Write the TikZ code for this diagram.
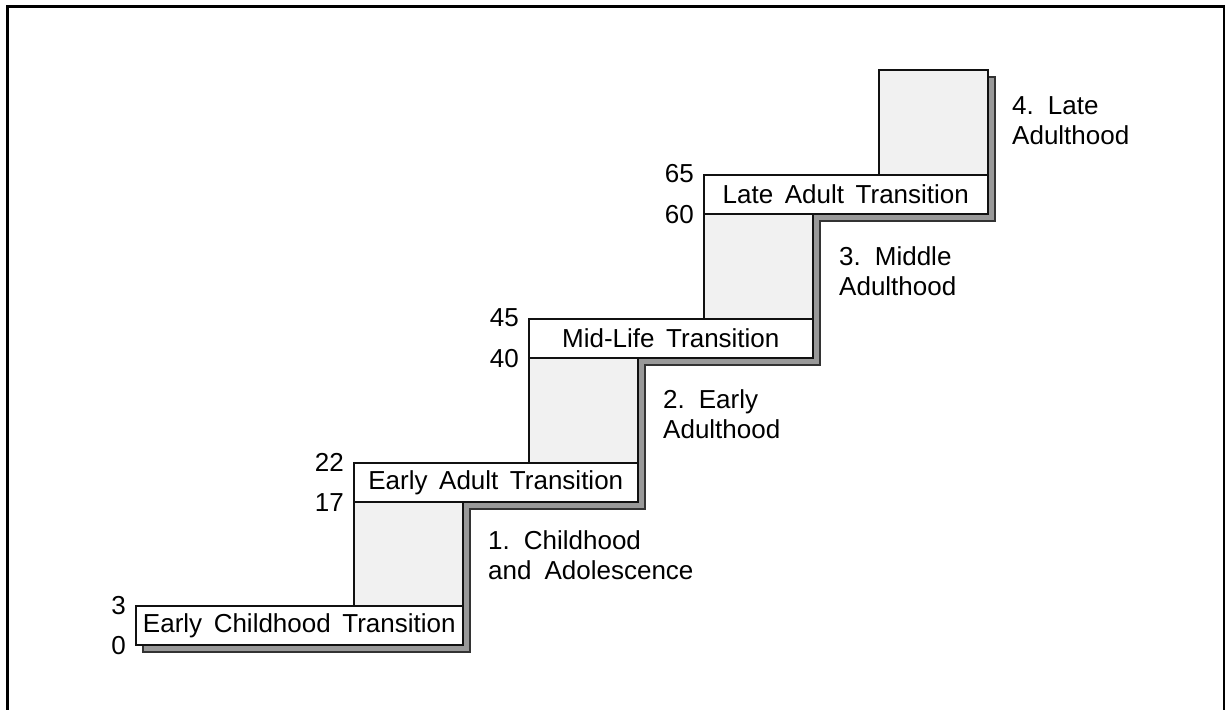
\documentclass[tikz,border=0pt]{standalone}
\usepackage{fontspec}
\setmainfont{Liberation Sans}[WordSpace=1.6]
\definecolor{shadowgray}{HTML}{999999}
\definecolor{blockgray}{HTML}{F1F1F1}
\definecolor{inkline}{HTML}{111111}
\begin{document}
\begin{tikzpicture}[x=1pt,y=-1pt,
  font=\fontsize{26}{30}\selectfont,
  stepbox/.style={draw=inkline, line width=1.6pt, fill=white, inner sep=0pt,
    anchor=north west, minimum height=39pt},
  eraslab/.style={draw=inkline, line width=1.6pt, fill=blockgray, inner sep=0pt,
    anchor=north west, minimum width=109pt, minimum height=105pt},
  agelab/.style={anchor=east, inner sep=0pt},
  periodlab/.style={anchor=base west, align=left, inner sep=0pt},
  shade/.style={fill=shadowgray, draw=black!80, line width=1.4pt}]
\useasboundingbox (0,0) rectangle (1225,709);

% outer frame (open at the bottom)
\draw[line width=2.2pt, black] (7.5,720) -- (7.5,6.5) -- (1224,6.5) -- (1224,720);

% drop shadow of the whole staircase
\draw[shade, shift={(8pt,-8pt)}]
  (135,605) -- (353,605) -- (353,462) -- (528,462) -- (528,318) -- (703,318)
  -- (703,174) -- (878,174) -- (878,69) -- (987,69) -- (987,213) -- (812,213)
  -- (812,357) -- (637,357) -- (637,501) -- (462,501) -- (462,644) -- (135,644)
  -- cycle;

% stable periods (risers)
\node[eraslab] (g1) at (353,500) {};
\node[eraslab] (g2) at (528,357) {};
\node[eraslab] (g3) at (703,213) {};
\node[eraslab] (g4) at (878,69) {};

% transitions (treads)
\node[stepbox, minimum width=327pt] (b1) at (135,605) {Early Childhood Transition};
\node[stepbox, minimum width=284pt] (b2) at (353,462) {Early Adult Transition};
\node[stepbox, minimum width=284pt] (b3) at (528,318) {Mid-Life Transition};
\node[stepbox, minimum width=284pt] (b4) at (703,174) {Late Adult Transition};

% ages
\node[agelab] (a3)  at ([xshift=-9pt,yshift=-1pt]b1.north west) {3};
\node[agelab] (a0)  at ([xshift=-9pt]b1.south west) {0};
\node[agelab] (a22) at ([xshift=-9pt]b2.north west) {22};
\node[agelab] (a17) at ([xshift=-9pt]b2.south west) {17};
\node[agelab] (a45) at ([xshift=-9pt]b3.north west) {45};
\node[agelab] (a40) at ([xshift=-9pt]b3.south west) {40};
\node[agelab] (a65) at ([xshift=-9pt]b4.north west) {65};
\node[agelab] (a60) at ([xshift=-9pt]b4.south west) {60};

% era names (anchored on the baseline of the second line)
\node[periodlab] (p1) at (488,579) {1.\hspace{14pt}Childhood\\and\hspace{13pt}Adolescence};
\node[periodlab] (p2) at (663,438) {2.\hspace{14pt}Early\\Adulthood};
\node[periodlab] (p3) at (839,295) {3.\hspace{14pt}Middle\\Adulthood};
\node[periodlab] (p4) at (1012,144) {4.\hspace{14pt}Late\\Adulthood};
\end{tikzpicture}
\end{document}
